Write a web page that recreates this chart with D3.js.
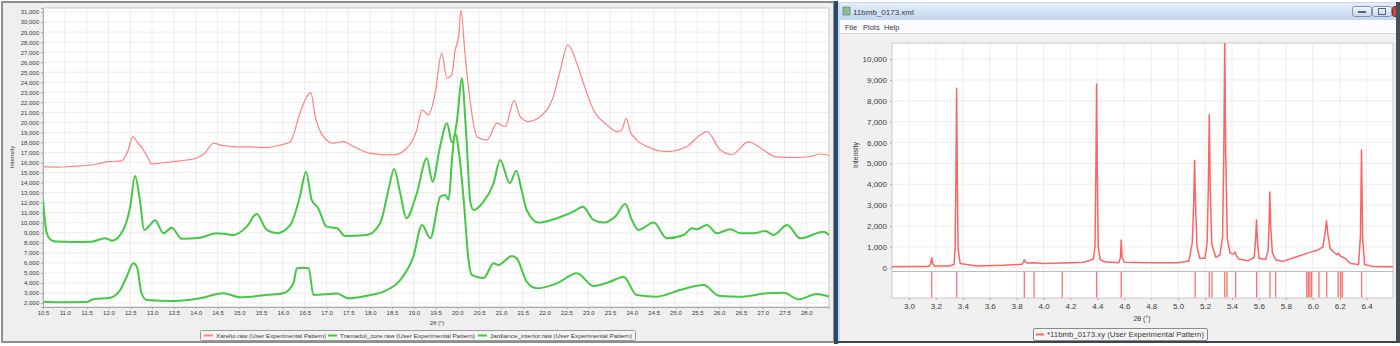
<!DOCTYPE html>
<html><head><meta charset="utf-8">
<script src="https://cdn.jsdelivr.net/npm/d3@7"></script>
<style>
body{margin:0;background:#fff}
svg{display:block}
text{font-family:"Liberation Sans",Arial,sans-serif;fill:#3a3a3a}
</style>
</head><body>
<svg id="c" width="1400" height="346"></svg>
<script>
// ---------------- DATA ----------------
const leftSeriesNames = ["Xarelto.raw (User Experimental Pattern)",
  "Tramadol_core.raw (User Experimental Pattern)",
  "Jardiance_interior.raw (User Experimental Pattern)"];
const rightSeriesName = "*11bmb_0173.xy (User Experimental Pattern)";
const windowTitle = "11bmb_0173.xml";
const menuItems = ["File", "Plots", "Help"];

const leftXTicks = [10.5,11.0,11.5,12.0,12.5,13.0,13.5,14.0,14.5,15.0,15.5,16.0,16.5,17.0,17.5,18.0,18.5,19.0,19.5,20.0,20.5,21.0,21.5,22.0,22.5,23.0,23.5,24.0,24.5,25.0,25.5,26.0,26.5,27.0,27.5,28.0];
const leftYTicks = [2000,3000,4000,5000,6000,7000,8000,9000,10000,11000,12000,13000,14000,15000,16000,17000,18000,19000,20000,21000,22000,23000,24000,25000,26000,27000,28000,29000,30000,31000];
const rightXTicks = [3.0,3.2,3.4,3.6,3.8,4.0,4.2,4.4,4.6,4.8,5.0,5.2,5.4,5.6,5.8,6.0,6.2,6.4];
const rightYTicks = [0,1000,2000,3000,4000,5000,6000,7000,8000,9000,10000];

// [2theta, intensity]
const xareltoRaw = [[10.5,15590],[10.8,15550],[11.2,15620],[11.5,15700],[11.8,15900],[12.0,16090],[12.3,16160],[12.45,17200],[12.56,18580],[12.65,18100],[12.8,17250],[12.9,16500],[12.99,15860],[13.2,15950],[13.49,16090],[13.8,16250],[14.05,16500],[14.2,16900],[14.41,17920],[14.6,17700],[14.86,17590],[15.2,17550],[15.63,17490],[15.9,17700],[16.17,18080],[16.39,20910],[16.55,22570],[16.64,22970],[16.74,20600],[16.93,18580],[17.16,17920],[17.39,18080],[17.62,17590],[18.0,16920],[18.53,16760],[18.84,17420],[19.07,19250],[19.19,21240],[19.34,20740],[19.49,22900],[19.64,26900],[19.76,24400],[19.87,24730],[19.95,27220],[20.03,28550],[20.08,31200],[20.18,26560],[20.29,22200],[20.45,18580],[20.68,18250],[20.91,19920],[21.1,19580],[21.3,22200],[21.44,20570],[21.63,20080],[22.05,21240],[22.2,22570],[22.36,25220],[22.53,27720],[22.74,25890],[22.89,23900],[23.12,21240],[23.43,19750],[23.66,19080],[23.77,19250],[23.87,20400],[23.98,18910],[24.35,17590],[24.8,17080],[25.26,17590],[25.57,18750],[25.72,19080],[26.03,17250],[26.3,16800],[26.67,18050],[27.0,17300],[27.3,16560],[27.8,16500],[28.1,16600],[28.3,16850],[28.52,16700]];

const tramadolCoreRaw = [[10.5,12270],[10.53,10800],[10.57,9300],[10.62,8600],[10.7,8250],[10.8,8120],[11.2,8080],[11.6,8100],[11.92,8450],[12.08,8210],[12.34,9280],[12.5,11600],[12.61,14660],[12.72,12270],[12.82,9280],[12.92,9610],[13.07,10250],[13.26,8950],[13.45,9510],[13.68,8400],[14.1,8510],[14.48,8950],[14.87,8780],[15.17,9610],[15.4,10870],[15.63,9280],[15.86,8950],[16.17,9780],[16.39,12600],[16.53,15090],[16.66,12270],[16.81,11440],[17.0,9610],[17.24,9450],[17.43,8680],[17.92,8780],[18.23,9950],[18.42,13270],[18.55,15360],[18.69,12940],[18.83,10450],[19.07,12940],[19.3,16420],[19.43,14090],[19.6,17500],[19.76,19920],[19.88,18000],[20.0,20500],[20.1,24400],[20.2,19000],[20.3,12000],[20.37,11270],[20.6,12100],[20.83,13930],[20.98,16260],[21.2,13930],[21.35,15190],[21.48,13100],[21.59,11270],[21.86,10010],[22.28,10450],[22.66,11100],[22.88,11600],[23.12,10280],[23.35,10010],[23.62,10610],[23.85,11870],[24.0,10280],[24.15,9280],[24.5,10010],[24.8,8450],[25.19,8780],[25.38,9450],[25.49,9350],[25.72,9780],[25.95,8950],[26.26,9350],[26.49,8950],[26.79,8950],[27.06,9180],[27.25,8780],[27.56,9780],[27.86,8450],[28.4,9110],[28.52,8780]];

const jardianceInteriorRaw = [[10.5,2130],[11.0,2080],[11.5,2100],[11.65,2370],[12.04,2530],[12.27,3300],[12.42,4620],[12.57,5960],[12.65,5620],[12.76,2970],[12.88,2300],[13.5,2200],[14.1,2470],[14.63,2970],[15.02,2570],[15.63,2800],[16.01,2970],[16.24,3960],[16.32,5460],[16.47,5500],[16.59,5460],[16.7,2800],[17.08,2900],[17.24,2950],[17.5,2470],[17.92,2730],[18.3,3130],[18.69,4290],[18.99,6620],[19.19,9780],[19.38,8450],[19.61,12600],[19.72,12770],[19.8,12300],[19.88,16500],[19.95,18900],[20.05,16500],[20.15,12000],[20.25,6500],[20.33,4790],[20.6,4460],[20.83,5960],[20.94,5790],[21.25,6690],[21.36,6460],[21.59,4120],[21.82,3460],[22.28,3960],[22.74,4960],[23.12,3700],[23.5,4120],[23.81,4620],[24.11,2800],[24.57,2630],[25.11,3300],[25.65,3790],[25.99,2730],[26.49,2630],[27.1,2970],[27.48,3030],[27.82,2370],[28.24,2900],[28.52,2630]];

const pattern11bmb = [[2.874,40],[3.0,50],[3.1,60],[3.15,70],[3.162,200],[3.169,480],[3.176,200],[3.19,80],[3.3,80],[3.335,150],[3.343,900],[3.349,4500],[3.354,8600],[3.359,4500],[3.365,900],[3.38,200],[3.5,80],[3.7,110],[3.84,160],[3.851,300],[3.857,380],[3.864,280],[3.88,220],[3.929,240],[4.0,200],[4.139,220],[4.3,260],[4.37,400],[4.382,1000],[4.389,4800],[4.394,8800],[4.399,4800],[4.406,1000],[4.42,400],[4.45,280],[4.56,240],[4.571,500],[4.577,1330],[4.583,500],[4.6,260],[4.8,230],[5.0,240],[5.08,320],[5.105,1200],[5.115,3000],[5.122,5150],[5.129,3000],[5.14,1000],[5.16,450],[5.2,450],[5.215,1200],[5.224,3800],[5.231,7330],[5.238,3800],[5.25,1100],[5.28,500],[5.31,600],[5.33,1500],[5.339,5500],[5.346,10830],[5.353,5500],[5.365,1400],[5.385,700],[5.41,650],[5.422,750],[5.427,700],[5.435,550],[5.45,420],[5.52,330],[5.565,500],[5.575,1300],[5.582,2280],[5.589,1300],[5.6,450],[5.65,400],[5.668,800],[5.675,2000],[5.681,3630],[5.687,2000],[5.7,700],[5.725,380],[5.78,300],[5.88,520],[5.97,720],[6.04,850],[6.075,1000],[6.09,1600],[6.102,2240],[6.112,1600],[6.13,900],[6.18,620],[6.19,700],[6.205,560],[6.24,450],[6.28,200],[6.34,150],[6.354,1500],[6.362,5650],[6.37,1500],[6.385,150],[6.45,50],[6.596,40]];

const reflectionPositions = [3.169,3.354,3.857,3.929,4.139,4.394,4.577,5.126,5.231,5.251,5.346,5.363,5.427,5.583,5.682,5.724,5.955,5.967,5.979,5.992,6.046,6.103,6.189,6.207,6.219,6.363];

// ---------------- DRAW ----------------
const svg = d3.select("#c");
const defs = svg.append("defs");
const tg = defs.append("linearGradient").attr("id","tbar").attr("x1",0).attr("y1",0).attr("x2",0).attr("y2",1);
tg.append("stop").attr("offset","0%").attr("stop-color","#e4eef9");
tg.append("stop").attr("offset","100%").attr("stop-color","#c3d7ed");
const bg = defs.append("linearGradient").attr("id","btn").attr("x1",0).attr("y1",0).attr("x2",0).attr("y2",1);
bg.append("stop").attr("offset","0%").attr("stop-color","#f2f6fb");
bg.append("stop").attr("offset","100%").attr("stop-color","#c9d7e6");
defs.append("clipPath").attr("id","clipL").append("rect").attr("x",43).attr("y",8).attr("width",786).attr("height",299);
defs.append("clipPath").attr("id","clipR").append("rect").attr("x",892).attr("y",43).attr("width",501).attr("height",228);

// ===== LEFT PANEL =====
svg.append("rect").attr("x",2).attr("y",2).attr("width",832).attr("height",340)
  .attr("fill","#efefef").attr("stroke","#8e8e8e").attr("stroke-width",2);

const xL = d3.scaleLinear().domain([10.5, 28.52]).range([43, 829]);
const yL = d3.scaleLinear().domain([1600, 31400]).range([307, 8]);

svg.append("rect").attr("x",43).attr("y",8).attr("width",786).attr("height",299)
  .attr("fill","#fff").attr("stroke","#c8c8c8").attr("stroke-width",1);

const gL = svg.append("g");
gL.selectAll("line.vx").data(leftXTicks).join("line")
  .attr("x1",d=>xL(d)).attr("x2",d=>xL(d)).attr("y1",8).attr("y2",307)
  .attr("stroke","#e9e9e9").attr("stroke-width",0.8);
gL.selectAll("line.hy").data(leftYTicks).join("line")
  .attr("y1",d=>yL(d)).attr("y2",d=>yL(d)).attr("x1",43).attr("x2",829)
  .attr("stroke","#e9e9e9").attr("stroke-width",0.8);

const axLy = svg.append("g").attr("transform","translate(43,0)")
  .call(d3.axisLeft(yL).tickValues(leftYTicks).tickFormat(d3.format(",")).tickSize(2).tickPadding(2));
axLy.selectAll("text").attr("font-size",6).attr("fill","#444").style("font-family","Liberation Sans, Arial, sans-serif");
axLy.select(".domain").attr("stroke","#aaa");
axLy.selectAll(".tick line").attr("stroke","#aaa");

const axLx = svg.append("g").attr("transform","translate(0,307)")
  .call(d3.axisBottom(xL).tickValues(leftXTicks).tickFormat(d3.format(".1f")).tickSize(2).tickPadding(2));
axLx.selectAll("text").attr("font-size",6).attr("fill","#444").style("font-family","Liberation Sans, Arial, sans-serif");
axLx.select(".domain").attr("stroke","#aaa");
axLx.selectAll(".tick line").attr("stroke","#aaa");

svg.append("text").attr("transform","translate(14,157) rotate(-90)").attr("text-anchor","middle")
  .attr("font-size",6).text("Intensity");
svg.append("text").attr("x",437).attr("y",325).attr("text-anchor","middle").attr("font-size",6).text("2θ (°)");

const lineL = d3.line().x(d=>xL(d[0])).y(d=>yL(d[1])).curve(d3.curveMonotoneX);
const leftColors = ["#ff8080","#43c943","#43c943"];
const leftWidths = [1.2,2,2];
[xareltoRaw, tramadolCoreRaw, jardianceInteriorRaw].forEach((s,i)=>{
  svg.append("path").datum(s).attr("d",lineL).attr("fill","none")
    .attr("stroke",leftColors[i]).attr("stroke-width",leftWidths[i])
    .attr("stroke-linejoin","round").attr("clip-path","url(#clipL)");
});

// left legend
svg.append("rect").attr("x",200.5).attr("y",330.5).attr("width",435).attr("height",10)
  .attr("fill","#f4f4f4").attr("stroke","#9a9a9a").attr("stroke-width",1).attr("rx",1);
const legX = [[204,216,110],[328,340,135],[478,490,142]];
leftSeriesNames.forEach((n,i)=>{
  svg.append("line").attr("x1",legX[i][0]).attr("x2",legX[i][0]+9).attr("y1",335.5).attr("y2",335.5)
    .attr("stroke",leftColors[i]).attr("stroke-width",2);
  svg.append("text").attr("x",legX[i][1]).attr("y",337.6).attr("font-size",5.8)
    .attr("textLength",legX[i][2]).attr("lengthAdjust","spacingAndGlyphs").text(n);
});

// ===== RIGHT PANEL (window) =====
svg.append("rect").attr("x",838).attr("y",2).attr("width",560).attr("height",341).attr("fill","#c9dbee");
svg.append("rect").attr("x",834).attr("y",1).attr("width",4).attr("height",343).attr("fill","#27486b");
svg.append("rect").attr("x",840).attr("y",3).attr("width",557).attr("height",17).attr("fill","url(#tbar)");
svg.append("rect").attr("x",843).attr("y",7).attr("width",7).attr("height",8).attr("fill","#8fc08a").attr("stroke","#5a8a9e").attr("stroke-width",0.8);
svg.append("text").attr("x",853).attr("y",14.5).attr("font-size",8).attr("fill","#222").text(windowTitle);
// window buttons
svg.append("rect").attr("x",1352.5).attr("y",6.5).attr("width",19).attr("height",10).attr("rx",2).attr("fill","url(#btn)").attr("stroke","#7d94ad");
svg.append("rect").attr("x",1358).attr("y",11).attr("width",8).attr("height",2).attr("fill","#55657a");
svg.append("rect").attr("x",1372.5).attr("y",6.5).attr("width",19).attr("height",10).attr("rx",2).attr("fill","url(#btn)").attr("stroke","#7d94ad");
svg.append("rect").attr("x",1378.5).attr("y",8.5).attr("width",7).attr("height",6).attr("fill","none").attr("stroke","#55657a");
svg.append("rect").attr("x",1392.5).attr("y",6.5).attr("width",10).attr("height",10).attr("rx",2).attr("fill","#c9463d").attr("stroke","#8d2b25");
// menu bar
svg.append("rect").attr("x",840).attr("y",20).attr("width",556).attr("height",13).attr("fill","#fbfcfe");
const menuX = [845,863,884];
menuItems.forEach((m,i)=>svg.append("text").attr("x",menuX[i]).attr("y",30).attr("font-size",7.5).attr("fill","#222").text(m));
svg.append("line").attr("x1",840).attr("x2",1396).attr("y1",33.5).attr("y2",33.5).attr("stroke","#d6d6d6");
svg.append("rect").attr("x",840).attr("y",34).attr("width",556).attr("height",307).attr("fill","#f0f0f0");
svg.append("rect").attr("x",1396).attr("y",2).attr("width",4).attr("height",341).attr("fill","#44505c");
svg.append("rect").attr("x",834).attr("y",341).attr("width",566).attr("height",2).attr("fill","#3c4752");

const xR = d3.scaleLinear().domain([2.874, 6.596]).range([892, 1393]);
const yR = d3.scaleLinear().domain([-160, 10770]).range([271, 43]);

svg.append("rect").attr("x",892).attr("y",43).attr("width",501).attr("height",255)
  .attr("fill","#fff").attr("stroke","#c8c8c8");
const gR = svg.append("g");
gR.selectAll("line.vx").data(rightXTicks).join("line")
  .attr("x1",d=>xR(d)).attr("x2",d=>xR(d)).attr("y1",43).attr("y2",298)
  .attr("stroke","#e8e8e8").attr("stroke-width",0.8);
gR.selectAll("line.hy").data(rightYTicks).join("line")
  .attr("y1",d=>yR(d)).attr("y2",d=>yR(d)).attr("x1",892).attr("x2",1393)
  .attr("stroke","#e8e8e8").attr("stroke-width",0.8);
svg.append("line").attr("x1",892).attr("x2",1393).attr("y1",271.5).attr("y2",271.5).attr("stroke","#bdbdbd");

const axRy = svg.append("g").attr("transform","translate(892,0)")
  .call(d3.axisLeft(yR).tickValues(rightYTicks).tickFormat(d3.format(",")).tickSize(2).tickPadding(3));
axRy.selectAll("text").attr("font-size",8).attr("fill","#444").style("font-family","Liberation Sans, Arial, sans-serif");
axRy.select(".domain").remove();
axRy.selectAll(".tick line").attr("stroke","#aaa");

const axRx = svg.append("g").attr("transform","translate(0,298)")
  .call(d3.axisBottom(xR).tickValues(rightXTicks).tickFormat(d3.format(".1f")).tickSize(2).tickPadding(3));
axRx.selectAll("text").attr("font-size",8).attr("fill","#444").style("font-family","Liberation Sans, Arial, sans-serif");
axRx.select(".domain").remove();
axRx.selectAll(".tick line").attr("stroke","#aaa");

svg.append("text").attr("transform","translate(858,155) rotate(-90)").attr("text-anchor","middle")
  .attr("font-size",7).text("Intensity");
svg.append("text").attr("x",1142).attr("y",321).attr("text-anchor","middle").attr("font-size",7).text("2θ (°)");

const lineR = d3.line().x(d=>xR(d[0])).y(d=>yR(d[1]));
svg.append("path").datum(pattern11bmb).attr("d",lineR).attr("fill","none")
  .attr("stroke","#ff6363").attr("stroke-width",1.5).attr("stroke-linejoin","round").attr("clip-path","url(#clipR)");

svg.selectAll("line.refl").data(reflectionPositions).join("line")
  .attr("x1",d=>xR(d)).attr("x2",d=>xR(d)).attr("y1",272).attr("y2",297.5)
  .attr("stroke","#ff7070").attr("stroke-width",1.3);

// right legend
svg.append("rect").attr("x",1033.5).attr("y",328.5).attr("width",174).attr("height",12)
  .attr("fill","#f4f4f4").attr("stroke","#8a8a8a").attr("rx",1.5);
svg.append("line").attr("x1",1036).attr("x2",1044).attr("y1",334.5).attr("y2",334.5).attr("stroke","#ff6363").attr("stroke-width",2);
svg.append("text").attr("x",1047).attr("y",337.3).attr("font-size",7.5)
  .attr("textLength",157).attr("lengthAdjust","spacingAndGlyphs").text(rightSeriesName);
</script>
</body></html>
